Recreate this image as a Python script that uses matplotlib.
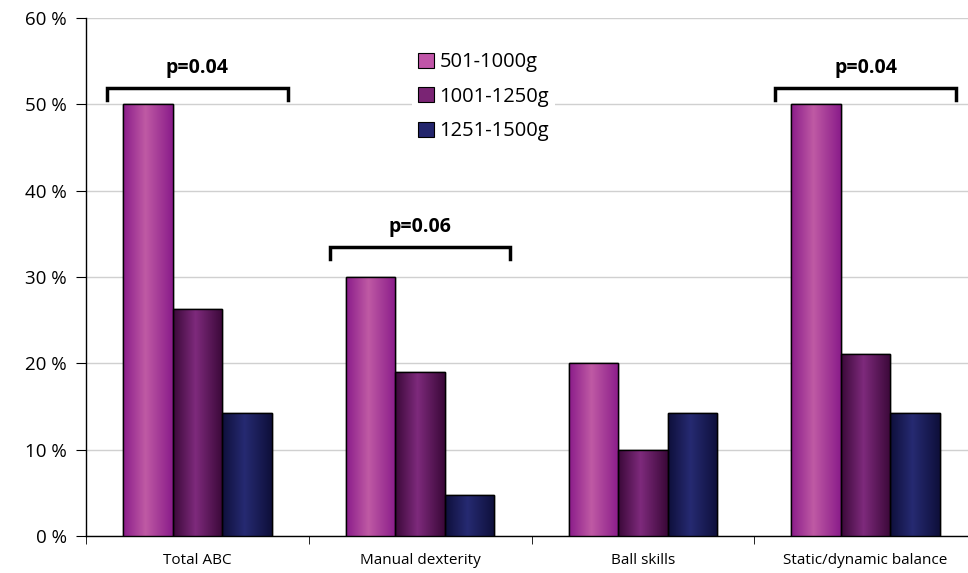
import numpy as np
import matplotlib.pyplot as plt
from matplotlib.colors import LinearSegmentedColormap
from matplotlib.patches import Patch

plt.rcParams['font.family'] = ['Open Sans', 'DejaVu Sans']

categories = ['Total ABC', 'Manual dexterity', 'Ball skills', 'Static/dynamic balance']
groups = ['501-1000g', '1001-1250g', '1251-1500g']
vals_501 = [50, 30, 20, 50]
vals_1001 = [26.3, 19, 10, 21.1]
vals_1251 = [14.3, 4.8, 14.3, 14.3]
yticks = [0, 10, 20, 30, 40, 50, 60]

# p-value brackets: category index, bracket height, label
p_cats = [0, 1, 3]
p_heights = [51.9, 33.5, 51.9]
p_labels = ['p=0.04', 'p=0.06', 'p=0.04']

# edge / centre / edge colours for the shaded bars
shades = [
    ['#8a1c8a', '#bf5aa4', '#8a1c8a'],
    ['#3a0838', '#7e2a7c', '#3a0838'],
    ['#0e0f3a', '#262a72', '#0e0f3a'],
]
legend_cols = ['#c055a8', '#7a2474', '#23256c']

fig = plt.figure(figsize=(9.68, 5.73), dpi=100)
ax = fig.add_axes([86 / 968, 1 - 536 / 573, 891 / 968, 518 / 573])

series = [vals_501, vals_1001, vals_1251]
w = 1 / 4.5
x = np.arange(len(categories)) + 0.5
grad = np.linspace(0, 1, 256).reshape(1, -1)
for k, vals in enumerate(series):
    cmap = LinearSegmentedColormap.from_list('g%d' % k,
                                             [(0, shades[k][0]), (0.45, shades[k][1]), (1, shades[k][2])])
    bars = ax.bar(x + (k - 1) * w, vals, width=w, color=legend_cols[k],
                  edgecolor='black', linewidth=1.0, label=groups[k], zorder=3)
    for b in bars:
        x0, y0 = b.get_x(), b.get_y()
        im = ax.imshow(grad, cmap=cmap, aspect='auto', zorder=3.5,
                       extent=[x0, x0 + b.get_width(), y0, y0 + b.get_height()])
        im.set_clip_path(b)
        edge = plt.Rectangle((x0, y0), b.get_width(), b.get_height(), fill=False,
                             edgecolor='black', linewidth=1.0, zorder=4)
        ax.add_patch(edge)

for c, h, lab in zip(p_cats, p_heights, p_labels):
    xl, xr = x[c] - 0.405, x[c] + 0.405
    ax.plot([xl, xl, xr, xr], [h - 1.4, h, h, h - 1.4], color='black', lw=2.5,
            solid_joinstyle='miter', zorder=5)
    ax.text(x[c], h + 1.1, lab, ha='center', va='bottom', fontsize=14,
            fontweight='bold', zorder=5)

ax.set_xlim(0, 4)
ax.set_ylim(0, 60)
ax.set_yticks(yticks)
ax.set_yticklabels(['%d %%' % t for t in yticks], fontsize=13.5)
ax.set_xticks(x)
ax.set_xticklabels(categories, fontsize=11)
ax.set_xticks(np.arange(5), minor=True)
ax.tick_params(axis='x', which='major', length=0, pad=12)
ax.tick_params(axis='x', which='minor', length=6, direction='out')
ax.tick_params(axis='y', length=7, direction='out', pad=7)
ax.yaxis.grid(True, color='#d0d0d0', lw=1.0, zorder=0)
ax.set_axisbelow(True)
for s in ['top', 'right']:
    ax.spines[s].set_visible(False)
ax.spines['left'].set_linewidth(1.0)
ax.spines['bottom'].set_linewidth(1.0)

handles = [Patch(facecolor=legend_cols[k], edgecolor='black', linewidth=0.8) for k in range(3)]
leg = ax.legend(handles, groups, loc='upper left', bbox_to_anchor=(0.355, 0.965),
                fontsize=14.5, frameon=True, handlelength=0.75, handleheight=0.75,
                handletextpad=0.3, labelspacing=0.72, borderpad=0.3)
leg.get_frame().set_edgecolor('none')
leg.get_frame().set_facecolor('white')
leg.get_frame().set_alpha(1)
leg.set_zorder(6)

fig.savefig('out.png', dpi=100)
